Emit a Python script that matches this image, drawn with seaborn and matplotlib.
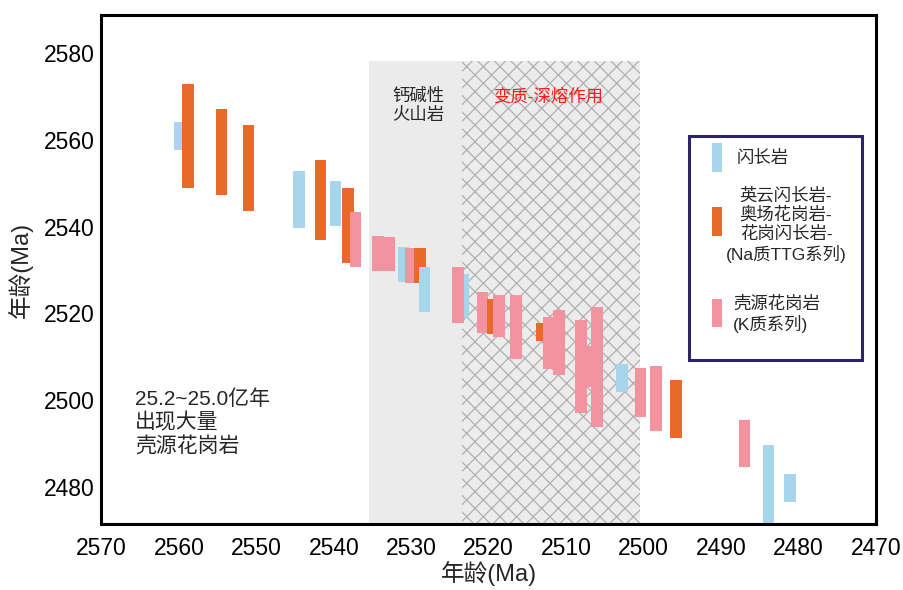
import matplotlib
matplotlib.use("Agg")
import matplotlib.pyplot as plt
from matplotlib.patches import Rectangle
import seaborn as sns
import pandas as pd

# ---- data ----
rock_type = ["D", "T", "T", "T", "D", "T", "D", "T", "K", "K", "K", "D", "K", "T", "D",
             "D", "K", "K", "T", "K", "K", "T", "K", "K", "K", "K", "K", "D", "K", "K",
             "T", "K", "D", "D"]
age_center = [2559.9, 2558.8, 2554.5, 2551.0, 2544.5, 2541.7, 2539.8, 2538.2, 2537.2,
              2534.3, 2532.9, 2531.0, 2530.1, 2528.9, 2528.3, 2523.3, 2524.0, 2520.8,
              2519.5, 2518.7, 2516.5, 2513.2, 2512.2, 2510.9, 2508.1, 2507.1, 2506.0,
              2502.8, 2500.4, 2498.4, 2495.8, 2487.0, 2483.9, 2481.1]
age_low = [2557.7, 2548.9, 2547.2, 2543.6, 2539.7, 2536.9, 2540.2, 2531.6, 2530.6,
           2529.9, 2529.7, 2527.2, 2527.1, 2527.1, 2520.3, 2518.9, 2517.7, 2515.5,
           2515.3, 2514.5, 2509.5, 2513.6, 2507.3, 2505.9, 2497.1, 2503.1, 2493.9,
           2501.9, 2496.1, 2493.0, 2491.4, 2484.7, 2470.0, 2476.6]
age_high = [2564.1, 2572.8, 2567.1, 2563.5, 2552.8, 2555.3, 2550.5, 2549.0, 2543.5,
            2537.9, 2537.7, 2535.4, 2535.2, 2535.0, 2530.6, 2529.0, 2530.8, 2524.9,
            2523.3, 2524.2, 2524.3, 2517.8, 2519.3, 2520.9, 2518.5, 2512.6, 2521.6,
            2508.3, 2507.4, 2508.0, 2504.7, 2495.4, 2489.6, 2483.0]

x_ticks = [2570, 2560, 2550, 2540, 2530, 2520, 2510, 2500, 2490, 2480, 2470]
y_ticks = [2480, 2500, 2520, 2540, 2560, 2580]

calc_alkaline_span = (2535.5, 2523.5)
metamorphic_span = (2523.5, 2500.5)
span_top = 2578.3

legend_labels = {"D": "闪长岩",
                 "T": "英云闪长岩-\n奥场花岗岩-\n花岗闪长岩-\n(Na质TTG系列)",
                 "K": "壳源花岗岩\n(K质系列)"}
colors = {"D": "#a7d6ec", "T": "#e8692a", "K": "#f2939f"}

df = pd.DataFrame({"type": rock_type, "age": age_center,
                   "low": age_low, "high": age_high})

# ---- style ----
sns.set_theme(style="white")
plt.rcParams["font.family"] = ["Liberation Sans", "Noto Sans CJK SC"]
plt.rcParams["hatch.linewidth"] = 0.9

W, H = 904, 590
fig = plt.figure(figsize=(W / 100, H / 100), dpi=100)
ax = fig.add_axes([101.5 / W, 1 - 524.3 / H, (876 - 101.5) / W, (524.3 - 15) / H])

# shaded regions
ax.fill_betweenx([2460, span_top], calc_alkaline_span[0], calc_alkaline_span[1],
                 facecolor="#ebebeb", linewidth=0, zorder=0)
ax.fill_betweenx([2460, span_top], metamorphic_span[0], metamorphic_span[1],
                 facecolor="#ececec", edgecolor="#b0b0b0", hatch="xx",
                 linewidth=0, zorder=0)

# age-range bars
for i, row in df.iterrows():
    ax.bar(row["age"], row["high"] - row["low"], bottom=row["low"], width=1.5,
           color=colors[row["type"]], linewidth=0, zorder=2 + i * 0.01)

ax.set_xlim(2570, 2470)
ax.set_ylim(2471.4, 2588.8)
ax.set_xticks(x_ticks)
ax.set_yticks(y_ticks)
ax.tick_params(axis="both", direction="in", length=6, width=2, colors="black",
               labelsize=16.5)
ax.tick_params(axis="x", pad=9)
ax.tick_params(axis="y", pad=5)
for s in ax.spines.values():
    s.set_linewidth(2.2)
    s.set_color("black")
ax.set_xlabel("年龄(Ma)", fontsize=17, labelpad=1)
ax.set_ylabel("年龄(Ma)", fontsize=17, labelpad=8)

# annotations
ax.text(2565.7, 2494.9, "25.2~25.0亿年\n出现大量\n壳源花岗岩", fontsize=15,
        ha="left", va="center", linespacing=1.2, zorder=5)
ax.text(2529.1, 2568.0, "钙碱性\n火山岩", fontsize=12.5, ha="center", va="center",
        linespacing=1.2, zorder=5)
ax.text(2512.35, 2570.1, "变质-深熔作用", fontsize=12.5, color="#ff1a1a",
        ha="center", va="center", zorder=5)

# legend (drawn in figure pixel coordinates)
def fx(px):
    return px / W

def fy(py):
    return 1 - py / H

fig.add_artist(Rectangle((fx(689.3), fy(360)), fx(861.7) - fx(689.3), fy(136) - fy(360),
                         transform=fig.transFigure, facecolor="white",
                         edgecolor="#2d2466", linewidth=2.2, zorder=10))
patch_rows = {"D": (143, 172), "T": (207, 236), "K": (299, 327)}
for k, (y0, y1) in patch_rows.items():
    fig.add_artist(Rectangle((fx(711.7), fy(y1)), fx(722.3) - fx(711.7), fy(y0) - fy(y1),
                             transform=fig.transFigure, facecolor=colors[k],
                             linewidth=0, zorder=11))
fig.text(fx(737), fy(158), legend_labels["D"], fontsize=12.5, ha="left", va="center",
         zorder=12)
fig.text(fx(786), fy(225), legend_labels["T"], fontsize=12.5, ha="center", va="center",
         multialignment="center", linespacing=1.2, zorder=12)
fig.text(fx(733), fy(314), legend_labels["K"], fontsize=12.5, ha="left", va="center",
         linespacing=1.2, zorder=12)

fig.savefig("out.png", dpi=100)
